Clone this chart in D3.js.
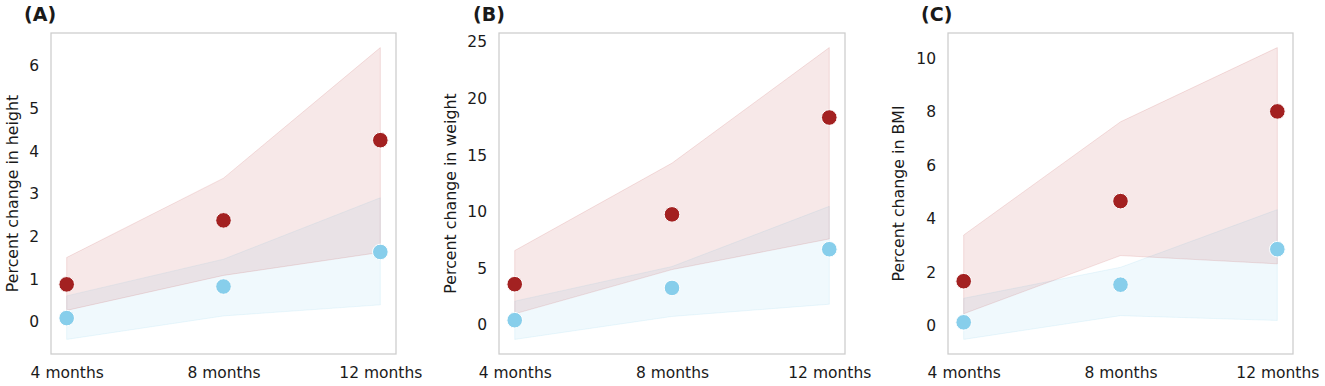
<!DOCTYPE html>
<html>
<head>
<meta charset="utf-8">
<script src="https://cdn.jsdelivr.net/npm/d3@7"></script>
<style>
  html, body { margin: 0; padding: 0; background: #fff; }
  svg { display: block; font-family: "DejaVu Sans", sans-serif; }
</style>
</head>
<body>
<svg id="chart" width="1325" height="386"></svg>
<script>
// ---- data ----
const categories = ["4 months", "8 months", "12 months"];
const panelLabels = ["(A)", "(B)", "(C)"];
const yTitles = ["Percent change in height", "Percent change in weight", "Percent change in BMI"];

// Panel A: height
const heightRed = [0.88, 2.38, 4.26];
const heightRedLow = [0.27, 1.09, 1.63];
const heightRedHigh = [1.51, 3.37, 6.43];
const heightBlue = [0.09, 0.83, 1.64];
const heightBlueLow = [-0.41, 0.14, 0.40];
const heightBlueHigh = [0.61, 1.47, 2.91];
const heightTicks = [0, 1, 2, 3, 4, 5, 6];

// Panel B: weight
const weightRed = [3.59, 9.76, 18.32];
const weightRedLow = [0.97, 4.88, 7.59];
const weightRedHigh = [6.56, 14.29, 24.5];
const weightBlue = [0.41, 3.26, 6.68];
const weightBlueLow = [-1.29, 0.74, 1.82];
const weightBlueHigh = [2.09, 5.15, 10.47];
const weightTicks = [0, 5, 10, 15, 20, 25];

// Panel C: BMI
const bmiRed = [1.66, 4.66, 8.02];
const bmiRedLow = [0.44, 2.62, 2.31];
const bmiRedHigh = [3.39, 7.63, 10.41];
const bmiBlue = [0.12, 1.53, 2.86];
const bmiBlueLow = [-0.52, 0.37, 0.19];
const bmiBlueHigh = [1.02, 2.18, 4.34];
const bmiTicks = [0, 2, 4, 6, 8, 10];

// ---- style ----
const RED = "#a32121";
const BLUE = "#87ceeb";
const BAND_RED = "#b22222";
const BAND_BLUE = "#87ceeb";

const panels = [
  { label: panelLabels[0], title: yTitles[0], red: heightRed, redLo: heightRedLow, redHi: heightRedHigh,
    blue: heightBlue, blueLo: heightBlueLow, blueHi: heightBlueHigh, ticks: heightTicks,
    left: 51, right: 396, titleX: 24, ylabX: 12 },
  { label: panelLabels[1], title: yTitles[1], red: weightRed, redLo: weightRedLow, redHi: weightRedHigh,
    blue: weightBlue, blueLo: weightBlueLow, blueHi: weightBlueHigh, ticks: weightTicks,
    left: 499, right: 845, titleX: 473, ylabX: 450 },
  { label: panelLabels[2], title: yTitles[2], red: bmiRed, redLo: bmiRedLow, redHi: bmiRedHigh,
    blue: bmiBlue, blueLo: bmiBlueLow, blueHi: bmiBlueHigh, ticks: bmiTicks,
    left: 948, right: 1293, titleX: 921, ylabX: 898 }
];

const plotTop = 33, plotBottom = 354;
const svg = d3.select("#chart");

panels.forEach(p => {
  const g = svg.append("g");
  const all = [].concat(p.red, p.redLo, p.redHi, p.blue, p.blueLo, p.blueHi);
  const mn = d3.min(all), mx = d3.max(all), pad = (mx - mn) * 0.05;

  const x = d3.scaleLinear().domain([-0.1, categories.length - 1 + 0.1]).range([p.left, p.right]);
  const y = d3.scaleLinear().domain([mn - pad, mx + pad]).range([plotBottom, plotTop]);

  const area = (lo, hi) => d3.area()
    .x((d, i) => x(i))
    .y0((d, i) => y(lo[i]))
    .y1((d, i) => y(hi[i]))(categories);

  // bands: blue first, then red on top
  g.append("path").attr("d", area(p.blueLo, p.blueHi))
    .attr("fill", BAND_BLUE).attr("fill-opacity", 0.12)
    .attr("stroke", BAND_BLUE).attr("stroke-opacity", 0.15).attr("stroke-width", 1);
  g.append("path").attr("d", area(p.redLo, p.redHi))
    .attr("fill", BAND_RED).attr("fill-opacity", 0.1)
    .attr("stroke", BAND_RED).attr("stroke-opacity", 0.12).attr("stroke-width", 1);

  // frame
  g.append("rect").attr("x", p.left).attr("y", plotTop)
    .attr("width", p.right - p.left).attr("height", plotBottom - plotTop)
    .attr("fill", "none").attr("stroke", "#cccccc").attr("stroke-width", 1.25);

  // points
  g.selectAll(".pb").data(p.blue).enter().append("circle")
    .attr("cx", (d, i) => x(i)).attr("cy", d => y(d)).attr("r", 7.8)
    .attr("fill", BLUE).attr("stroke", "#fff").attr("stroke-width", 1);
  g.selectAll(".pr").data(p.red).enter().append("circle")
    .attr("cx", (d, i) => x(i)).attr("cy", d => y(d)).attr("r", 7.8)
    .attr("fill", RED).attr("stroke", "#fff").attr("stroke-width", 1);

  // y axis
  const yAxis = d3.axisLeft(y).tickValues(p.ticks).tickSize(0).tickPadding(12).tickFormat(d3.format("d"));
  const ya = g.append("g").attr("transform", `translate(${p.left},0)`).call(yAxis);
  ya.select(".domain").remove();
  ya.selectAll("text").attr("font-size", 15.5).attr("fill", "#1a1a1a").attr("font-family", "DejaVu Sans");

  // x axis
  const xAxis = d3.axisBottom(x).tickValues(d3.range(categories.length)).tickSize(0)
    .tickPadding(13).tickFormat(i => categories[i]);
  const xa = g.append("g").attr("transform", `translate(0,${plotBottom})`).call(xAxis);
  xa.select(".domain").remove();
  xa.selectAll("text").attr("font-size", 15.5).attr("fill", "#1a1a1a").attr("font-family", "DejaVu Sans");

  // y title
  g.append("text").attr("transform", `translate(${p.ylabX},${(plotTop + plotBottom) / 2}) rotate(-90)`)
    .attr("text-anchor", "middle").attr("dominant-baseline", "central")
    .attr("font-size", 15.8).attr("fill", "#1a1a1a").text(p.title);

  // panel label
  g.append("text").attr("x", p.titleX).attr("y", 21)
    .attr("font-size", 19).attr("font-weight", "bold").attr("fill", "#1a1a1a").text(p.label);
});
</script>
</body>
</html>
